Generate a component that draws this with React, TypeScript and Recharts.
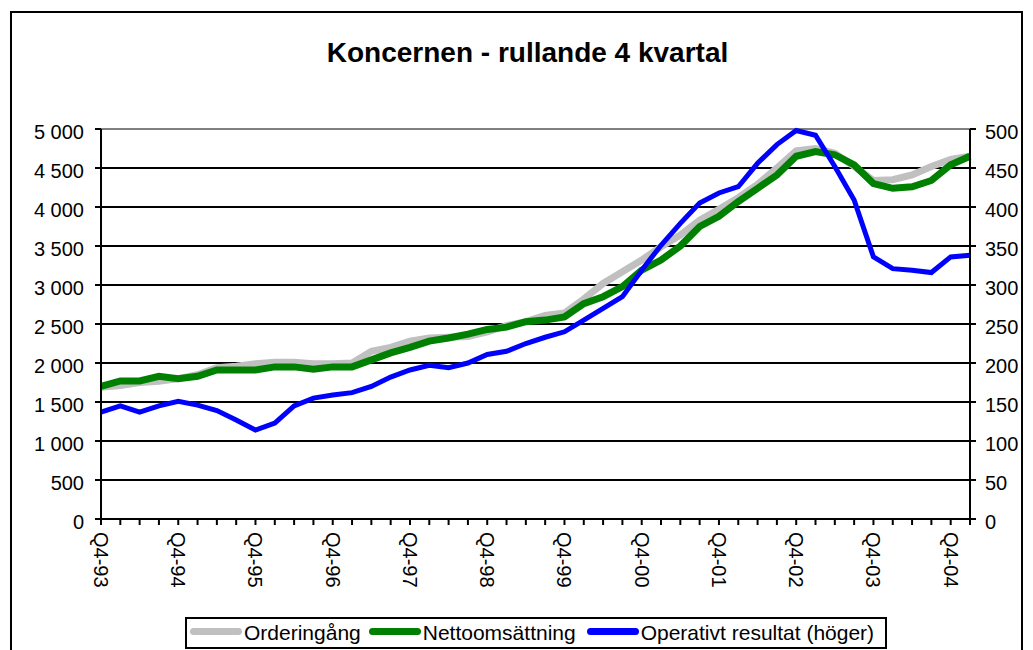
import { LineChart, Line, XAxis, YAxis, CartesianGrid, ReferenceLine, Legend } from 'recharts';

// Quarters, Q4-93 .. Q1-05
const quarters = [
  'Q4-93', 'Q1-94', 'Q2-94', 'Q3-94', 'Q4-94', 'Q1-95', 'Q2-95', 'Q3-95', 'Q4-95',
  'Q1-96', 'Q2-96', 'Q3-96', 'Q4-96', 'Q1-97', 'Q2-97', 'Q3-97', 'Q4-97',
  'Q1-98', 'Q2-98', 'Q3-98', 'Q4-98', 'Q1-99', 'Q2-99', 'Q3-99', 'Q4-99',
  'Q1-00', 'Q2-00', 'Q3-00', 'Q4-00', 'Q1-01', 'Q2-01', 'Q3-01', 'Q4-01',
  'Q1-02', 'Q2-02', 'Q3-02', 'Q4-02', 'Q1-03', 'Q2-03', 'Q3-03', 'Q4-03',
  'Q1-04', 'Q2-04', 'Q3-04', 'Q4-04', 'Q1-05',
];

const orderingang = [
  1690, 1710, 1750, 1765, 1800, 1850, 1940, 1960, 1990,
  2010, 2010, 1990, 1990, 2000, 2150, 2200, 2280,
  2320, 2330, 2340, 2400, 2480, 2530, 2610, 2640,
  2820, 3020, 3170, 3320, 3490, 3640, 3830, 3970,
  4120, 4290, 4500, 4720, 4750, 4690, 4520, 4340,
  4350, 4410, 4520, 4610, 4650,
];

const nettoomsattning = [
  1700, 1770, 1770, 1830, 1800, 1830, 1910, 1910, 1910,
  1950, 1950, 1920, 1950, 1950, 2040, 2130, 2200,
  2280, 2320, 2370, 2430, 2460, 2530, 2550, 2590,
  2760, 2850, 2980, 3190, 3320, 3500, 3750, 3880,
  4070, 4240, 4410, 4650, 4710, 4670, 4540, 4300,
  4240, 4260, 4340, 4540, 4650,
];

const operativtResultat = [
  137, 145, 137, 145, 151, 146, 139, 127, 114,
  123, 145, 155, 159, 162, 170, 182, 191,
  197, 194, 200, 211, 215, 225, 233, 240,
  255, 270, 285, 319, 351, 379, 405, 418,
  426, 456, 480, 498, 492, 452, 409, 336,
  321, 319, 316, 336, 338,
];

const leftTicks = [0, 500, 1000, 1500, 2000, 2500, 3000, 3500, 4000, 4500, 5000];
const rightTicks = [0, 50, 100, 150, 200, 250, 300, 350, 400, 450, 500];

const seriesInfo = [
  { key: 'order', name: 'Orderingång', color: '#C0C0C0' },
  { key: 'netto', name: 'Nettoomsättning', color: '#008000' },
  { key: 'oper', name: 'Operativt resultat (höger)', color: '#0000FF' },
];

const data = quarters.map((q, i) => ({
  q,
  order: orderingang[i],
  netto: nettoomsattning[i],
  oper: operativtResultat[i],
}));

const FONT = 'Arial, "Liberation Sans", sans-serif';

const fmtThousands = (v: number) =>
  v >= 1000 ? `${Math.floor(v / 1000)} ${String(v % 1000).padStart(3, '0')}` : String(v);

const LeftTick = ({ x, y, payload }: any) => (
  <text x={x} y={y} dy={10} textAnchor="end" fontSize={20} fontFamily={FONT} fill="#000">
    {fmtThousands(payload.value)}
  </text>
);

const RightTick = ({ x, y, payload }: any) => (
  <text x={x} y={y} dy={10} textAnchor="start" fontSize={20} fontFamily={FONT} fill="#000">
    {payload.value}
  </text>
);

const QuarterTick = ({ x, y, payload }: any) => {
  if (!String(payload.value).startsWith('Q4')) return <g />;
  return (
    <text
      x={x}
      y={y}
      dy="0.35em"
      textAnchor="start"
      fontSize={20}
      fontFamily={FONT}
      fill="#000"
      transform={`rotate(90, ${x}, ${y})`}
    >
      {payload.value}
    </text>
  );
};

const LegendBox = () => (
  <div
    style={{
      boxSizing: 'border-box',
      width: 702,
      height: 32,
      border: '2px solid #000',
      background: '#fff',
      display: 'flex',
      alignItems: 'center',
      paddingLeft: 3,
      fontFamily: FONT,
      fontSize: 21,
      color: '#000',
      whiteSpace: 'nowrap',
    }}
  >
    {seriesInfo.map((s, i) => (
      <div key={s.key} style={{ display: 'flex', alignItems: 'center', marginRight: i === 0 ? 8 : 11 }}>
        <span
          style={{
            display: 'inline-block',
            width: 52,
            height: 7,
            borderRadius: 4,
            background: s.color,
            marginRight: 2,
            marginTop: -4,
          }}
        />
        <span>{s.name}</span>
      </div>
    ))}
  </div>
);

export default function App() {
  return (
    <div style={{ position: 'absolute', left: 0, top: 0, width: 1033, height: 650, overflow: 'hidden', background: '#fff' }}>
      <div
        style={{
          position: 'absolute',
          left: 10,
          top: 11,
          width: 1013,
          height: 700,
          boxSizing: 'border-box',
          border: '2px solid #000',
        }}
      />
      <div
        style={{
          position: 'absolute',
          left: 0,
          top: 39,
          width: 1055,
          textAlign: 'center',
          fontFamily: FONT,
          fontSize: 28,
          lineHeight: '28px',
          fontWeight: 'bold',
          color: '#000',
        }}
      >
        Koncernen - rullande 4 kvartal
      </div>
      <div style={{ position: 'absolute', left: 0, top: 0 }}>
        <LineChart width={1033} height={650} data={data} margin={{ top: 129, right: 3, bottom: 31, left: 41 }}>
          <CartesianGrid yAxisId="left" vertical={false} stroke="#000" strokeWidth={2} strokeOpacity={1} />
          <XAxis
            dataKey="q"
            interval={0}
            height={100}
            tickSize={6}
            tickMargin={7}
            axisLine={{ stroke: '#000', strokeWidth: 2 }}
            tickLine={{ stroke: '#000', strokeWidth: 2 }}
            tick={<QuarterTick />}
          />
          <YAxis
            yAxisId="left"
            width={60}
            domain={[0, 5000]}
            ticks={leftTicks}
            tickSize={6}
            tickMargin={11}
            axisLine={{ stroke: '#000', strokeWidth: 2 }}
            tickLine={{ stroke: '#000', strokeWidth: 2 }}
            tick={<LeftTick />}
          />
          <YAxis
            yAxisId="right"
            orientation="right"
            width={60}
            domain={[0, 500]}
            ticks={rightTicks}
            tickSize={6}
            tickMargin={9}
            axisLine={{ stroke: '#000', strokeWidth: 2 }}
            tickLine={{ stroke: '#000', strokeWidth: 2 }}
            tick={<RightTick />}
          />
          <ReferenceLine yAxisId="left" y={5000} stroke="#808080" strokeWidth={2} />
          <Line
            yAxisId="left"
            type="linear"
            dataKey="order"
            name={seriesInfo[0].name}
            stroke={seriesInfo[0].color}
            strokeWidth={7}
            dot={false}
            isAnimationActive={false}
          />
          <Line
            yAxisId="left"
            type="linear"
            dataKey="netto"
            name={seriesInfo[1].name}
            stroke={seriesInfo[1].color}
            strokeWidth={7}
            dot={false}
            isAnimationActive={false}
          />
          <Line
            yAxisId="right"
            type="linear"
            dataKey="oper"
            name={seriesInfo[2].name}
            stroke={seriesInfo[2].color}
            strokeWidth={5}
            dot={false}
            isAnimationActive={false}
          />
          <Legend
            verticalAlign="middle"
            align="center"
            layout="horizontal"
            wrapperStyle={{ left: 185, top: 617, width: 702, height: 32 }}
            content={() => <LegendBox />}
          />
        </LineChart>
      </div>
    </div>
  );
}
